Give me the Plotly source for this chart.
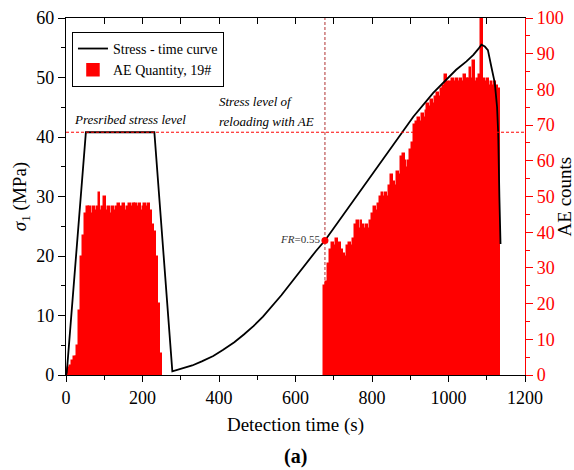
import plotly.graph_objects as go
import numpy as np

# ---- Stress-time curve (s, MPa) ----
stress_time = [0, 2, 52, 231, 278, 300, 330, 355, 385, 410, 440, 465, 490, 515, 540, 563,
               586, 608, 630, 653, 677, 720, 770, 820, 864, 908, 960, 995, 1020, 1047,
               1065, 1078, 1086, 1095, 1103, 1112, 1121, 1127, 1130, 1133, 1136]
stress_val = [0, 0.4, 40.8, 40.8, 0.6, 1.0, 1.6, 2.3, 3.2, 4.2, 5.5, 6.8, 8.2, 9.8, 11.6, 13.4,
              15.3, 17.1, 19.0, 20.8, 22.6, 26.5, 31.0, 35.6, 39.5, 43.4, 47.4, 49.6, 51.3, 52.7,
              53.8, 54.8, 55.5, 55.2, 54.6, 51.8, 49.1, 45.0, 40.5, 30.0, 22.0]

# ---- AE counts, 5 s bins ----
ae_bin = 5
ae1_start = 0
ae1_counts = [1.5, 2, 2.5, 4, 5, 5, 8, 18, 33, 39,
              45, 47, 47, 45, 47, 46, 47, 51, 46, 47,
              50, 46, 47, 45, 47, 46, 47, 48, 46, 47,
              48, 46, 47, 48, 47, 48, 48, 47, 48, 46,
              47, 48, 47, 48, 46, 42, 40, 33, 20, 6]
ae2_start = 675
ae2_counts = [25, 26, 31, 35, 37, 36, 38, 36, 37, 35,
              34, 33, 36, 37, 36, 38, 42, 43, 41, 43,
              42, 41, 42, 41, 43, 45, 47, 46, 48, 50,
              51, 50, 51, 50, 53, 56, 54, 53, 57, 56,
              61, 62, 60, 58, 60, 63, 65, 70, 71, 72,
              71, 73, 72, 74, 76, 75, 77, 76, 78, 79,
              78, 80, 81, 84, 82, 81, 82, 83, 82, 83,
              82, 83, 82, 84, 83, 83, 86, 83, 88, 82,
              83, 84, 100, 83, 82, 83, 81, 82, 81, 82,
              81, 80]

stress_level = 40.8
fr_time = 677
fr_stress = 22.6

ae1_time = ae1_start + ae_bin * (np.arange(len(ae1_counts)) + 0.5)
ae2_time = ae2_start + ae_bin * (np.arange(len(ae2_counts)) + 0.5)
ae_time = np.concatenate([ae1_time, ae2_time])
ae_counts = ae1_counts + ae2_counts

FONT = "Liberation Serif"
RED = "#ff0000"

fig = go.Figure()
fig.add_trace(go.Scatter(x=stress_time, y=stress_val, mode="lines",
                         line=dict(color="black", width=1.8),
                         name="Stress - time curve", xaxis="x", yaxis="y2"))
fig.add_trace(go.Bar(x=ae_time, y=ae_counts, width=ae_bin,
                     marker=dict(color=RED, line=dict(width=1.5, color=RED)),
                     name="AE Quantity, 19#", xaxis="x", yaxis="y"))
fig.add_trace(go.Scatter(x=[fr_time], y=[fr_stress], mode="markers",
                         marker=dict(color=RED, size=7), showlegend=False,
                         xaxis="x", yaxis="y2"))
# empty trace so the top mirror axis is drawn
fig.add_trace(go.Scatter(x=[None], y=[None], xaxis="x2", yaxis="y", showlegend=False,
                         hoverinfo="skip"))

fig.update_layout(
    width=574, height=470,
    margin=dict(l=66, r=49, t=18, b=95),
    paper_bgcolor="white", plot_bgcolor="white",
    font=dict(family=FONT, size=18, color="black"),
    bargap=0, barmode="overlay",
    showlegend=True,
    legend=dict(x=0.013, y=0.961, xanchor="left", yanchor="top",
                bordercolor="black", borderwidth=1, bgcolor="white",
                font=dict(size=14, family=FONT), tracegroupgap=0,
                traceorder="normal"),
    xaxis=dict(range=[0, 1200], dtick=200, tick0=0, ticks="outside", ticklen=6,
               tickwidth=1.2, tickcolor="black",
               minor=dict(dtick=100, ticklen=4, ticks="outside", tickcolor="black"),
               showline=True, linecolor="black", linewidth=1.3, showgrid=False,
               zeroline=False, anchor="y", automargin=False,
               title=dict(text="Detection time (s)", font=dict(size=19), standoff=10),
               tickfont=dict(size=18)),
    xaxis2=dict(range=[0, 1200], dtick=100, ticks="inside", ticklen=6, tickwidth=1.2,
                tickcolor="black", showticklabels=False, overlaying="x", side="top",
                showline=True, linecolor="black", linewidth=1.3, showgrid=False,
                zeroline=False, anchor="y", automargin=False),
    yaxis=dict(range=[0, 100], dtick=10, side="right", ticks="outside", ticklen=7,
               tickwidth=1.2, tickcolor=RED,
               minor=dict(dtick=5, ticklen=4, ticks="outside", tickcolor=RED),
               showline=True, linecolor=RED, linewidth=1.3, showgrid=False,
               zeroline=False, tickfont=dict(color=RED, size=18), automargin=False),
    yaxis2=dict(range=[0, 60], dtick=10, side="left", overlaying="y", ticks="outside",
                ticklen=7, tickwidth=1.2, tickcolor="black",
                minor=dict(dtick=5, ticklen=4, ticks="outside", tickcolor="black"),
                showline=True, linecolor="black", linewidth=1.3, showgrid=False,
                zeroline=False, tickfont=dict(size=18), automargin=False,
                title=dict(text="<i>σ</i><sub>1</sub> (MPa)", font=dict(size=19), standoff=4)),
)

fig.add_shape(type="line", xref="paper", x0=0, x1=1, yref="y2",
              y0=stress_level, y1=stress_level,
              line=dict(color=RED, width=1, dash="3px,2px"))
fig.add_shape(type="line", xref="x", x0=fr_time, x1=fr_time, yref="paper", y0=0, y1=1,
              line=dict(color="#b03030", width=1, dash="3px,2px"), layer="below")

ann_font = dict(family=FONT, size=13, color="black")
fig.add_annotation(x=16, y=42.9, xref="x", yref="y2", text="<i>Presribed stress level</i>",
                   showarrow=False, xanchor="left", yanchor="middle", font=ann_font)
fig.add_annotation(x=394, y=46.0, xref="x", yref="y2", text="<i>Stress level of</i>",
                   showarrow=False, xanchor="left", yanchor="middle", font=ann_font)
fig.add_annotation(x=394, y=42.6, xref="x", yref="y2", text="<i>reloading with AE</i>",
                   showarrow=False, xanchor="left", yanchor="middle", font=ann_font)
fig.add_annotation(x=fr_time - 8, y=fr_stress + 0.2, xref="x", yref="y2",
                   text="<i>FR</i>=0.55", showarrow=False, xanchor="right",
                   yanchor="middle", font=dict(family=FONT, size=11, color="#333333"))
fig.add_annotation(x=1.087, y=0.5, xref="paper", yref="paper", text="AE counts",
                   textangle=-90, showarrow=False, xanchor="center", yanchor="middle",
                   font=dict(family=FONT, size=19, color="black"))
fig.add_annotation(x=0.5, y=-0.228, xref="paper", yref="paper", text="<b>(a)</b>",
                   showarrow=False, xanchor="center", yanchor="middle",
                   font=dict(family=FONT, size=20, color="black"))

fig.write_html("out.html")
